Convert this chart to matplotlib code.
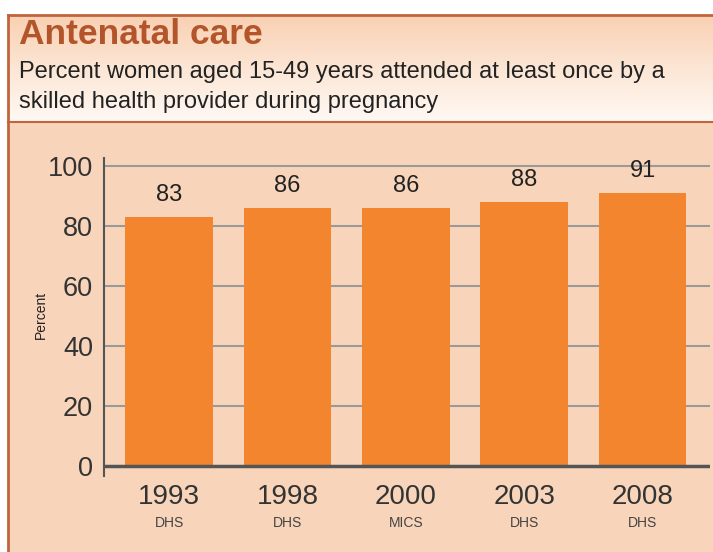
import numpy as np
import matplotlib.pyplot as plt
from matplotlib.colors import LinearSegmentedColormap
from matplotlib.lines import Line2D

plt.rcParams['font.family'] = ['Liberation Sans', 'DejaVu Sans']

years = ['1993', '1998', '2000', '2003', '2008']
sources = ['DHS', 'DHS', 'MICS', 'DHS', 'DHS']
values = [83, 86, 86, 88, 91]

W, H = 713, 552
BG = '#f8d5ba'
BAR = '#f3852f'
BORDER = '#c0653b'
TITLE = '#b3542a'

fig = plt.figure(figsize=(W / 100, H / 100), dpi=100)
fig.patch.set_facecolor('white')

def fx(px):
    return px / W

def fy(py):
    return 1 - py / H

# panel background
bg_ax = fig.add_axes([fx(8), 0, 1 - fx(8), fy(122)])
bg_ax.set_facecolor(BG)
bg_ax.set_xticks([])
bg_ax.set_yticks([])
for s in bg_ax.spines.values():
    s.set_visible(False)

# header with gradient
hd_ax = fig.add_axes([fx(8), fy(122), 1 - fx(8), fy(15) - fy(122)])
cmap = LinearSegmentedColormap.from_list('hdr', ['#f9d0b2', '#fce6d5', '#fff9f4'])
grad = np.linspace(0, 1, 256).reshape(-1, 1)
hd_ax.imshow(grad, aspect='auto', cmap=cmap, extent=[0, 1, 0, 1], origin='upper')
hd_ax.set_xticks([])
hd_ax.set_yticks([])
for s in hd_ax.spines.values():
    s.set_visible(False)

# border lines
fig.add_artist(Line2D([fx(8), fx(8)], [0, fy(15)], color=BORDER, lw=2, transform=fig.transFigure))
fig.add_artist(Line2D([fx(8), 1], [fy(15), fy(15)], color=BORDER, lw=2, transform=fig.transFigure))
fig.add_artist(Line2D([fx(8), 1], [fy(122), fy(122)], color=BORDER, lw=1.5, transform=fig.transFigure))

fig.text(fx(19), fy(35), 'Antenatal care', fontsize=25.5, fontweight='bold', color=TITLE, va='center', ha='left')
fig.text(fx(19), fy(72), 'Percent women aged 15-49 years attended at least once by a',
         fontsize=17, color='#222222', va='center', ha='left')
fig.text(fx(19), fy(102), 'skilled health provider during pregnancy',
         fontsize=17, color='#222222', va='center', ha='left')

# main chart
ax = fig.add_axes([fx(104), fy(476), fx(710) - fx(104), fy(158) - fy(476)])
ax.set_facecolor('none')
x = np.arange(len(years))
ax.set_xlim(-0.55, 4.57)
ax.set_ylim(-3.3, 102.7)

for yv in [20, 40, 60, 80, 100]:
    ax.axhline(yv, color='#9a9a9a', lw=1.5, zorder=1)
ax.axhline(0, color='#555555', lw=2.5, zorder=3)

bars = ax.bar(x, values, width=0.74, color=BAR, zorder=2)
for xi, v in zip(x, values):
    ax.text(xi, v + 3.7, str(v), ha='center', va='bottom', fontsize=17, color='#222222')

ax.set_yticks([0, 20, 40, 60, 80, 100])
ax.set_yticklabels(['0', '20', '40', '60', '80', '100'], fontsize=19.5, color='#333333')
ax.tick_params(axis='y', length=0, pad=8)
ax.set_xticks([])
for xi, yr, s in zip(x, years, sources):
    ax.annotate(yr, (xi, 0), xycoords=('data', 'axes fraction'), xytext=(0, -21),
                textcoords='offset pixels', ha='center', va='center', fontsize=20, color='#333333')
    ax.annotate(s, (xi, 0), xycoords=('data', 'axes fraction'), xytext=(0, -47),
                textcoords='offset pixels', ha='center', va='center', fontsize=10, color='#444444')

for side in ['top', 'right', 'bottom']:
    ax.spines[side].set_visible(False)
ax.spines['left'].set_color('#555555')
ax.spines['left'].set_linewidth(1.5)

ax.set_ylabel('Percent', fontsize=10, color='#222222')
ax.yaxis.set_label_coords(-0.092, 0.506)

fig.savefig('out.png', dpi=100)
